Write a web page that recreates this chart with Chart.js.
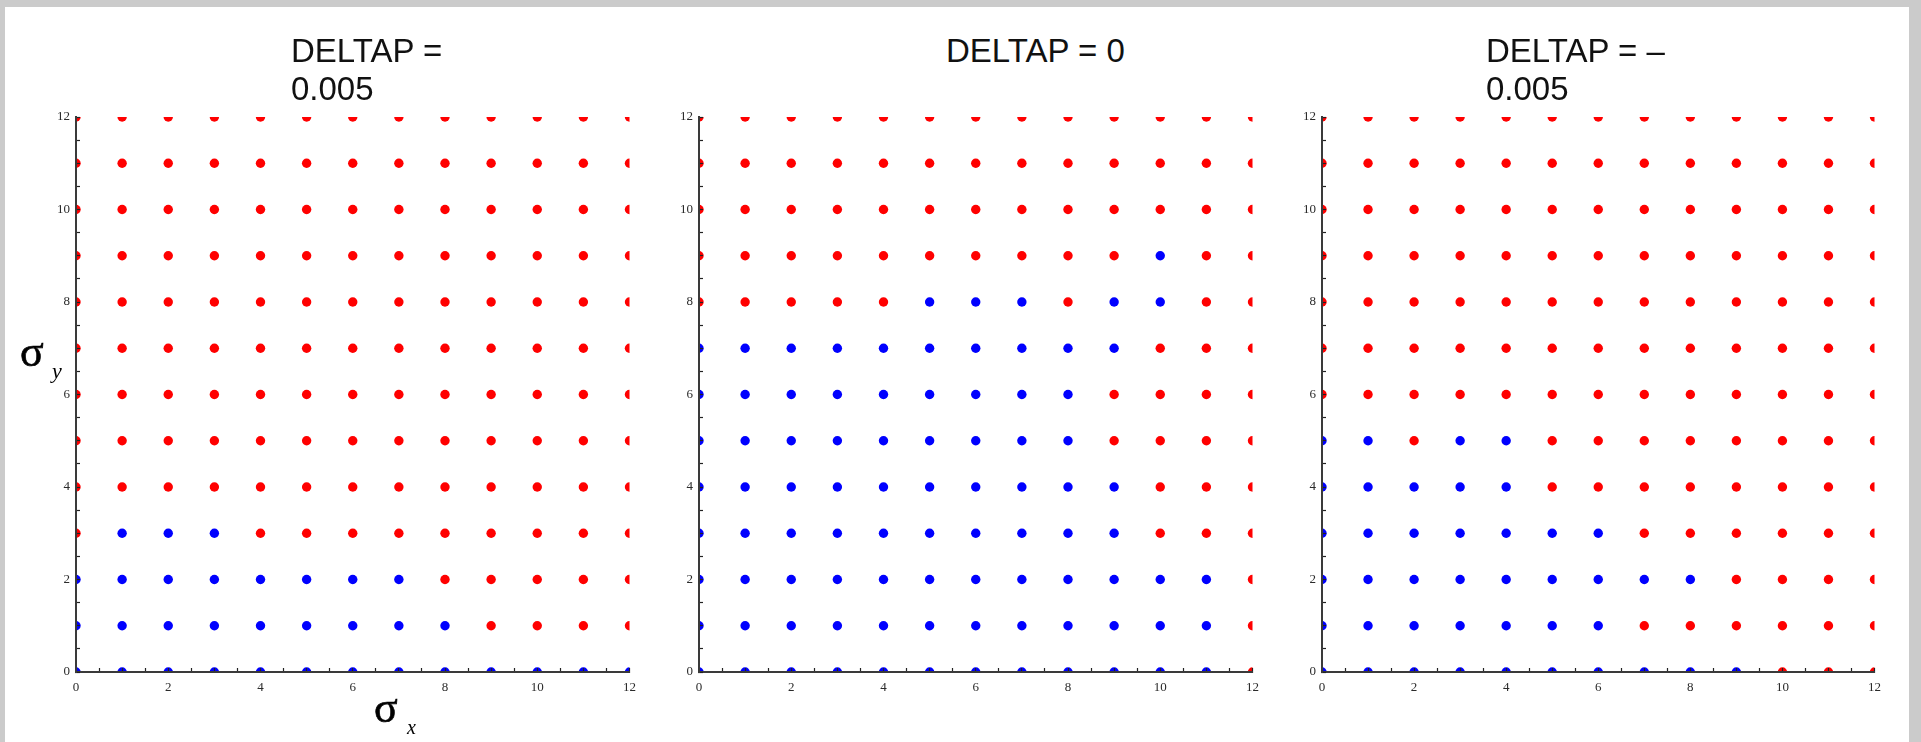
<!DOCTYPE html>
<html>
<head>
<meta charset="utf-8">
<title>DELTAP stability maps</title>
<script src="https://cdn.jsdelivr.net/npm/chart.js@4/dist/chart.umd.min.js"></script>
<style>
  html, body { margin: 0; padding: 0; background: #cbcbcb; }
  #page { position: relative; width: 1921px; height: 742px; background: #cbcbcb; overflow: hidden; }
  #sheet { position: absolute; left: 5px; top: 7px; width: 1904px; height: 740px; background: #ffffff; }
  canvas { position: absolute; }
  .title { position: absolute; font-family: "Liberation Sans", Arial, sans-serif; font-size: 33px;
           line-height: 38px; color: #111; white-space: nowrap; }
  .sym { position: absolute; font-family: "Liberation Serif", "Times New Roman", serif; line-height: 1; color: #000; white-space: nowrap; }
  .sym i { font-style: italic; }
</style>
</head>
<body>
<div id="page">
  <div id="sheet"></div>
  <canvas id="c1" width="632" height="622"></canvas>
  <canvas id="c2" width="632" height="622"></canvas>
  <canvas id="c3" width="632" height="622"></canvas>

  <div class="title" style="left:291px; top:32px;">DELTAP =<br>0.005</div>
  <div class="title" style="left:946px; top:32px;">DELTAP = 0</div>
  <div class="title" style="left:1486px; top:32px;">DELTAP = –<br>0.005</div>

  <div class="sym" style="left:20px; top:330px; font-size:44px; -webkit-text-stroke:0.6px #000;">σ</div>
  <div class="sym" style="left:52px; top:360px; font-size:22px;"><i>y</i></div>
  <div class="sym" style="left:374px; top:686px; font-size:44px; -webkit-text-stroke:0.6px #000;">σ</div>
  <div class="sym" style="left:407px; top:717px; font-size:20px;"><i>x</i></div>
</div>

<script>
// Sample grid of σx / σy values (both axes use the same steps)
const sigmaSteps = [0, 1, 2, 3, 4, 5, 6, 7, 8, 9, 10, 11, 12];

// Tracking result per grid point: row index = σy, column index = σx.
// 1 = stable (blue), 0 = lost (red)
const stabilityPlus = [
  [1,1,1,1,1,1,1,1,1,1,1,1,1],
  [1,1,1,1,1,1,1,1,1,0,0,0,0],
  [1,1,1,1,1,1,1,1,0,0,0,0,0],
  [0,1,1,1,0,0,0,0,0,0,0,0,0],
  [0,0,0,0,0,0,0,0,0,0,0,0,0],
  [0,0,0,0,0,0,0,0,0,0,0,0,0],
  [0,0,0,0,0,0,0,0,0,0,0,0,0],
  [0,0,0,0,0,0,0,0,0,0,0,0,0],
  [0,0,0,0,0,0,0,0,0,0,0,0,0],
  [0,0,0,0,0,0,0,0,0,0,0,0,0],
  [0,0,0,0,0,0,0,0,0,0,0,0,0],
  [0,0,0,0,0,0,0,0,0,0,0,0,0],
  [0,0,0,0,0,0,0,0,0,0,0,0,0]
];

const stabilityZero = [
  [1,1,1,1,1,1,1,1,1,1,1,1,0],
  [1,1,1,1,1,1,1,1,1,1,1,1,0],
  [1,1,1,1,1,1,1,1,1,1,1,1,0],
  [1,1,1,1,1,1,1,1,1,1,0,0,0],
  [1,1,1,1,1,1,1,1,1,1,0,0,0],
  [1,1,1,1,1,1,1,1,1,0,0,0,0],
  [1,1,1,1,1,1,1,1,1,0,0,0,0],
  [1,1,1,1,1,1,1,1,1,1,0,0,0],
  [0,0,0,0,0,1,1,1,0,1,1,0,0],
  [0,0,0,0,0,0,0,0,0,0,1,0,0],
  [0,0,0,0,0,0,0,0,0,0,0,0,0],
  [0,0,0,0,0,0,0,0,0,0,0,0,0],
  [0,0,0,0,0,0,0,0,0,0,0,0,0]
];

const stabilityMinus = [
  [1,1,1,1,1,1,1,1,1,1,0,0,0],
  [1,1,1,1,1,1,1,0,0,0,0,0,0],
  [1,1,1,1,1,1,1,1,1,0,0,0,0],
  [1,1,1,1,1,1,1,0,0,0,0,0,0],
  [1,1,1,1,1,0,0,0,0,0,0,0,0],
  [1,1,0,1,1,0,0,0,0,0,0,0,0],
  [0,0,0,0,0,0,0,0,0,0,0,0,0],
  [0,0,0,0,0,0,0,0,0,0,0,0,0],
  [0,0,0,0,0,0,0,0,0,0,0,0,0],
  [0,0,0,0,0,0,0,0,0,0,0,0,0],
  [0,0,0,0,0,0,0,0,0,0,0,0,0],
  [0,0,0,0,0,0,0,0,0,0,0,0,0],
  [0,0,0,0,0,0,0,0,0,0,0,0,0]
];

// Axis tick values with labels (minor ticks every 0.5 carry no label)
const labelledTicks = [0, 2, 4, 6, 8, 10, 12];

// Canvas placement: the plot frame starts AXIS_W px inside each canvas
const AXIS_W = 60, AXIS_H = 40, PAD_TOP = 27, PAD_RIGHT = 15;
const panelLayout = [
  { id: 'c1', map: stabilityPlus,  frameLeft: 76,   frameWidth: 557 },
  { id: 'c2', map: stabilityZero,  frameLeft: 699,  frameWidth: 557 },
  { id: 'c3', map: stabilityMinus, frameLeft: 1322, frameWidth: 556 }
];
const FRAME_TOP = 117, FRAME_BOTTOM = 672;

function axisOptions(position, labelPadding, fitSize) {
  return {
    type: 'linear',
    position: position,
    min: 0,
    max: 12,
    grid: {
      display: true,
      drawOnChartArea: false,
      drawTicks: true,
      tickLength: -4,
      tickColor: '#222',
      tickWidth: 1.2,
      z: 1
    },
    border: { display: true, color: '#3a3a3a', width: 2, z: 1 },
    ticks: {
      stepSize: 0.5,
      autoSkip: false,
      maxRotation: 0,
      minRotation: 0,
      padding: labelPadding,
      color: '#2a2a2a',
      font: { family: 'Liberation Serif', size: 13 },
      callback: (v) => (labelledTicks.includes(v) ? String(v) : '')
    },
    afterFit: fitSize
  };
}

function buildPanel(p) {
  const canvas = document.getElementById(p.id);
  const canvasW = AXIS_W + p.frameWidth + PAD_RIGHT;
  const canvasH = PAD_TOP + (FRAME_BOTTOM - FRAME_TOP) + AXIS_H;
  canvas.width = canvasW;
  canvas.height = canvasH;
  canvas.style.left = (p.frameLeft - AXIS_W) + 'px';
  canvas.style.top = (FRAME_TOP - PAD_TOP) + 'px';

  const lost = [], stable = [];
  p.map.forEach((row, j) => {
    row.forEach((flag, i) => {
      (flag ? stable : lost).push({ x: sigmaSteps[i], y: sigmaSteps[j] });
    });
  });

  const pointStyle = (color) => ({
    backgroundColor: color,
    borderColor: color,
    borderWidth: 0,
    pointRadius: 4.7,
    pointHoverRadius: 4.7,
    clip: 0
  });

  new Chart(canvas, {
    type: 'scatter',
    data: {
      datasets: [
        Object.assign({ label: 'lost', data: lost }, pointStyle('#ff0000')),
        Object.assign({ label: 'stable', data: stable }, pointStyle('#0000ff'))
      ]
    },
    options: {
      responsive: false,
      animation: false,
      devicePixelRatio: 1,
      events: [],
      layout: { padding: { left: 0, right: PAD_RIGHT, top: PAD_TOP, bottom: 0 } },
      plugins: {
        legend: { display: false },
        tooltip: { enabled: false },
        title: { display: false }
      },
      scales: {
        x: axisOptions('bottom', 12, (s) => { s.height = AXIS_H; }),
        y: axisOptions('left', 10, (s) => { s.width = AXIS_W; })
      }
    }
  });
}

panelLayout.forEach(buildPanel);
</script>
</body>
</html>
